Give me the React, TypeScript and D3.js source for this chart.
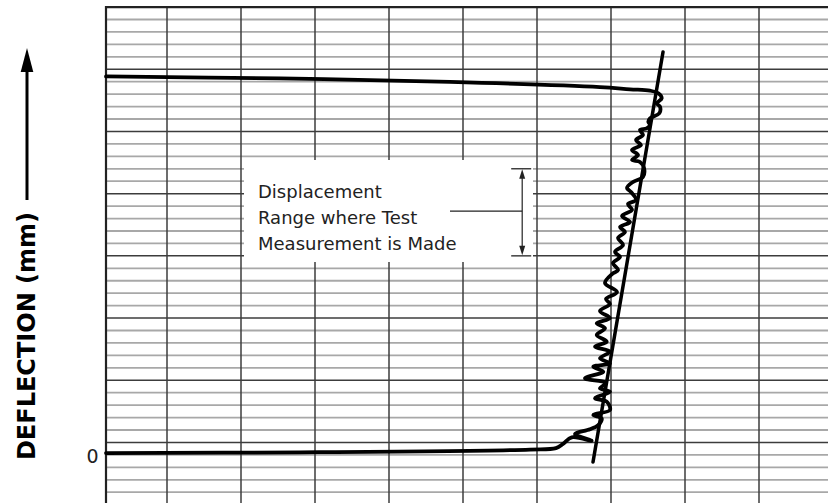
import React from "react";
import * as d3 from "d3";

// ---- data (x: chart divisions, 10 per major column; y: deflection, 1 per minor grid) ----
const traceX = [
  1.76, 27.97, 59.05, 62.57, 63.51, 64.69, 67.39, 65.14, 67.16, 68.28, 68.74, 67.61, 69.86, 69.42, 67.84,
  69.86, 68.51, 69.32, 66.49, 68.96, 67.61, 69.86, 68.51, 69.86, 67.84, 69.42, 68.07, 69.19, 68.07, 69.86,
  68.51, 69.86, 69.32, 70.81, 69.19, 70.14, 70.95, 70.27, 71.22, 70.54, 71.62, 70.95, 71.89, 71.22, 72.57,
  71.49, 72.84, 72.3, 73.38, 72.7, 72.16, 72.97, 74.32, 74.46, 73.92, 72.84, 73.65, 72.84, 74.05, 73.38,
  74.32, 73.92, 74.82, 75.27, 75.04, 75.27, 76.53, 76.62, 76.18, 76.85, 76.39, 75.27, 72.57, 68.51, 48.24,
  25.27, 1.76,
];
const traceY = [
  0.15, 0.21, 0.43, 0.55, 0.88, 1.41, 1.14, 1.68, 2.06, 2.4, 2.94, 3.21, 3.61, 4.28, 4.55,
  5.08, 5.35, 5.78, 6.16, 6.69, 7.09, 7.36, 7.77, 8.3, 8.7, 9.1, 9.64, 10.18, 10.58, 11.0,
  11.57, 12.13, 12.53, 13.09, 13.82, 14.54, 14.86, 15.43, 15.91, 16.31, 16.87, 17.44, 17.92, 18.32, 18.72,
  19.2, 19.69, 20.17, 20.49, 21.13, 21.46, 21.94, 22.34, 23.06, 23.55, 23.71, 24.11, 24.51, 24.91, 25.31,
  25.72, 26.12, 26.25, 26.52, 26.78, 27.06, 27.46, 27.99, 28.26, 28.67, 29.07, 29.28, 29.39, 29.57, 29.98,
  30.26, 30.42,
];
const trendX = [77.03, 67.57];
const trendY = [32.39, -0.57];
const xGridValues = [10, 20, 30, 40, 50, 60, 70, 80, 90];
const yGridValues = d3.range(-3, 36);
const yTopValue = 36;
const yZeroLabel = "0";
const rangeLow = 16;
const rangeHigh = 23;
const rangeX = 58;
const annotationLines = ["Displacement", "Range where Test", "Measurement is Made"];
const yAxisTitle = "DEFLECTION (mm)";

const W = 828;
const H = 503;
const PLOT_LEFT = 106;

export default function App() {
  const x = d3.scaleLinear().domain([0, 100]).range([93, 833]);
  const y = d3.scaleLinear().domain([-4, 36]).range([504.66, 7.06]);

  const pts: [number, number][] = traceX.map((v, i) => [v, traceY[i]]);
  const line = d3
    .line<[number, number]>()
    .x((d) => x(d[0]))
    .y((d) => y(d[1]))
    .curve(d3.curveCatmullRom.alpha(0.5));
  const tracePath = line(pts) || "";
  const trendPath =
    d3
      .line<[number, number]>()
      .x((d) => x(d[0]))
      .y((d) => y(d[1]))(trendX.map((v, i) => [v, trendY[i]])) || "";

  const bx = x(rangeX);
  const yHi = y(rangeHigh);
  const yLo = y(rangeLow);
  const yMid = y(19.6);

  const dark = "#3c3c3c";
  const minor = "#a8a8a8";

  return (
    <svg
      width={W}
      height={H}
      style={{ position: "absolute", left: 0, top: 0, background: "#fff" }}
      fontFamily="'DejaVu Sans', Verdana, sans-serif"
    >
      <rect x={0} y={0} width={W} height={H} fill="#fff" />
      {/* horizontal grid */}
      {yGridValues.map((v) => {
        const major = (yTopValue - v) % 5 === 0;
        return (
          <line
            key={"h" + v}
            x1={PLOT_LEFT}
            x2={W}
            y1={y(v)}
            y2={y(v)}
            stroke={major ? dark : minor}
            strokeWidth={major ? 1.5 : 1.8}
          />
        );
      })}
      {/* vertical grid */}
      {xGridValues.map((v) => (
        <line key={"v" + v} x1={x(v)} x2={x(v)} y1={y(yTopValue)} y2={H} stroke={dark} strokeWidth={1.5} />
      ))}
      {/* borders */}
      <line x1={PLOT_LEFT - 1} x2={W} y1={y(yTopValue)} y2={y(yTopValue)} stroke="#222" strokeWidth={2.2} />
      <line x1={PLOT_LEFT} x2={PLOT_LEFT} y1={y(yTopValue) - 1} y2={H} stroke="#222" strokeWidth={2.2} />

      {/* annotation box */}
      <rect x={244} y={160} width={289} height={102} fill="#fff" />
      {annotationLines.map((t, i) => (
        <text key={t} x={258} y={198 + i * 25.8} fontSize={18} fill="#222">
          {t}
        </text>
      ))}
      <line x1={450} x2={bx} y1={yMid} y2={yMid} stroke="#222" strokeWidth={1.2} />
      <line x1={bx} x2={bx} y1={yHi + 8} y2={yLo - 8} stroke="#222" strokeWidth={1.2} />
      <line x1={bx - 11} x2={bx + 9} y1={yHi} y2={yHi} stroke="#222" strokeWidth={1.3} />
      <line x1={bx - 11} x2={bx + 9} y1={yLo} y2={yLo} stroke="#222" strokeWidth={1.3} />
      <path d={`M${bx},${yHi + 0.5} L${bx - 3},${yHi + 10} L${bx + 3},${yHi + 10} Z`} fill="#222" />
      <path d={`M${bx},${yLo - 0.5} L${bx - 3},${yLo - 10} L${bx + 3},${yLo - 10} Z`} fill="#222" />

      {/* data */}
      <path d={trendPath} fill="none" stroke="#000" strokeWidth={3.5} strokeLinecap="round" />
      <path
        d={tracePath}
        fill="none"
        stroke="#000"
        strokeWidth={3.8}
        strokeLinejoin="round"
        strokeLinecap="round"
      />

      {/* y label */}
      <text x={98.5} y={462.5} fontSize={19} textAnchor="end" fill="#222">
        {yZeroLabel}
      </text>
      <text
        transform={`translate(35,336) rotate(-90)`}
        fontSize={24}
        fontWeight="bold"
        textAnchor="middle"
        fill="#000"
      >
        {yAxisTitle}
      </text>
      <line x1={27} x2={27} y1={200} y2={68} stroke="#000" strokeWidth={3} />
      <path d="M27,48 L20.7,72 L33.3,72 Z" fill="#000" />
    </svg>
  );
}
